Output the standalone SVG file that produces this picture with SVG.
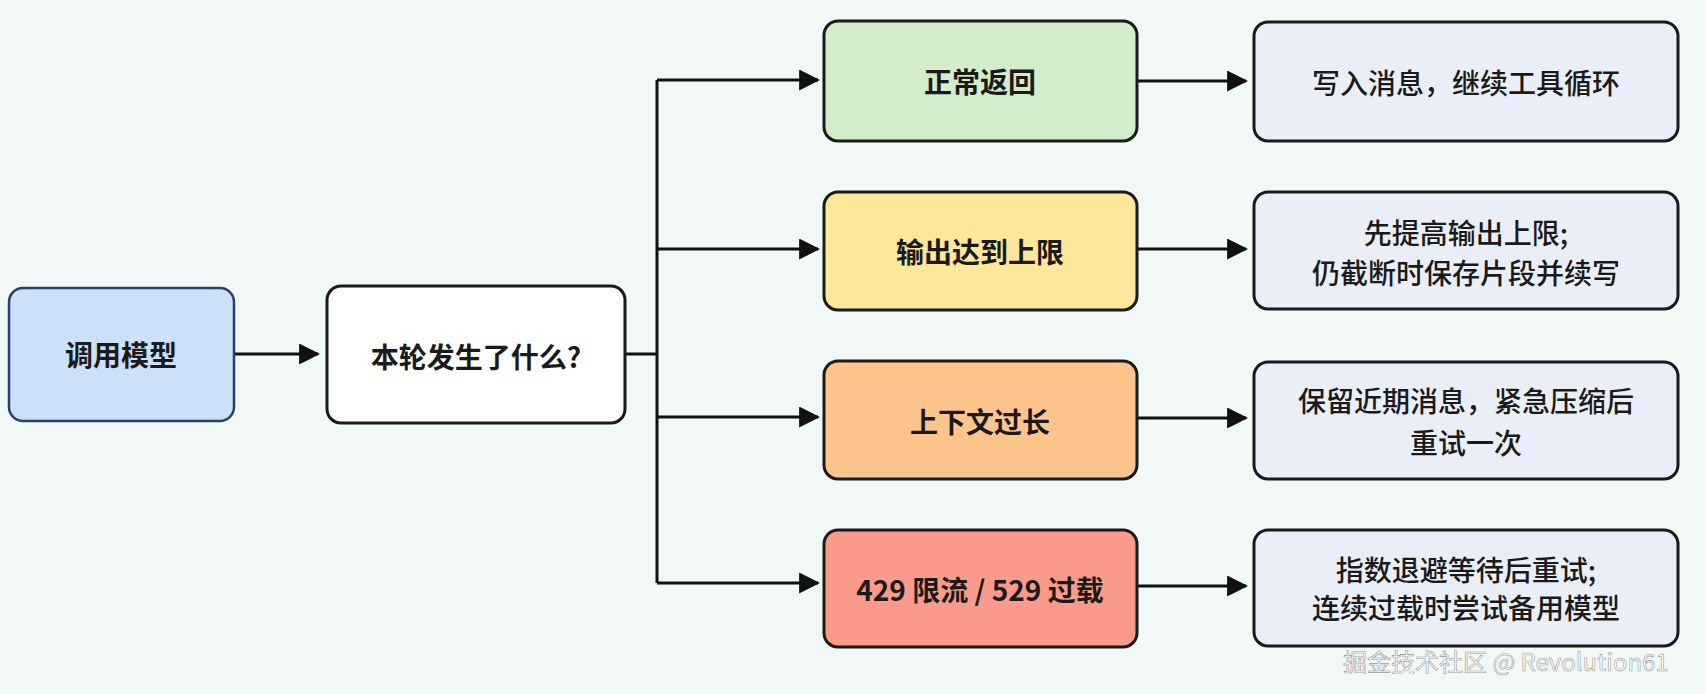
<svg xmlns="http://www.w3.org/2000/svg" width="1706" height="694" viewBox="0 0 1706 694">
<style>
.b{stroke:#1a1a1a;stroke-width:3}
.t{font-family:"Noto Sans CJK SC","Liberation Sans",sans-serif;font-size:28px;fill:#1a1a1a;text-anchor:middle;dominant-baseline:central}
.bold{font-weight:700}
.m{font-weight:500}
.c{stroke:#111;stroke-width:3;fill:none}
</style>
<defs><marker id="a" viewBox="0 0 10 10" refX="9" refY="5" markerWidth="6.5" markerHeight="6.5" orient="auto" markerUnits="userSpaceOnUse" ><path d="M0,0L10,5L0,10z" fill="#111"/></marker>
<marker id="ar" viewBox="0 0 10 10" refX="9" refY="5" markerWidth="7" markerHeight="7" orient="auto"><path d="M0,0L10,5L0,10z" fill="#111"/></marker></defs>
<rect width="1706" height="694" fill="#f1f8f5"/>
<g id="connectors">
<path class="c" d="M234,354H318" marker-end="url(#ar)"/>
<path class="c" d="M625,354H657M657,80V583"/>
<path class="c" d="M657,80H818" marker-end="url(#ar)"/>
<path class="c" d="M657,249H818" marker-end="url(#ar)"/>
<path class="c" d="M657,417H818" marker-end="url(#ar)"/>
<path class="c" d="M657,583H818" marker-end="url(#ar)"/>
<path class="c" d="M1137,81H1246" marker-end="url(#ar)"/>
<path class="c" d="M1137,249H1246" marker-end="url(#ar)"/>
<path class="c" d="M1137,418H1246" marker-end="url(#ar)"/>
<path class="c" d="M1137,586H1246" marker-end="url(#ar)"/>
</g>
<g id="call"><rect x="9" y="288" width="225" height="133" rx="14" fill="#cce0f9" stroke="#2b3f6b" stroke-width="2.5"/><text class="t bold" x="121" y="354">调用模型</text></g>
<g id="what"><rect x="327" y="286" width="298" height="137" rx="14" fill="#fff" class="b"/><text class="t bold" x="476" y="356">本轮发生了什么?</text></g>
<g id="normal"><rect x="824" y="21" width="313" height="120" rx="14" fill="#d3edcc" class="b"/><text class="t bold" x="980" y="81">正常返回</text></g>
<g id="maxout"><rect x="824" y="192" width="313" height="118" rx="14" fill="#fee69b" class="b"/><text class="t bold" x="980" y="251">输出达到上限</text></g>
<g id="ctx"><rect x="824" y="361" width="313" height="118" rx="14" fill="#fdc58c" class="b"/><text class="t bold" x="980" y="421">上下文过长</text></g>
<g id="rate"><rect x="824" y="530" width="313" height="117" rx="14" fill="#f99a8b" class="b"/><text class="t bold" x="980" y="589">429 限流 / 529 过载</text></g>
<g id="r1"><rect x="1254" y="22" width="424" height="119" rx="14" fill="#e9eef8" class="b"/><text class="t m" x="1466" y="82">写入消息，继续工具循环</text></g>
<g id="r2"><rect x="1254" y="192" width="424" height="117" rx="14" fill="#e9eef8" class="b"/><text class="t m" x="1466" y="232">先提高输出上限;</text><text class="t m" x="1466" y="272">仍截断时保存片段并续写</text></g>
<g id="r3"><rect x="1254" y="362" width="424" height="117" rx="14" fill="#e9eef8" class="b"/><text class="t m" x="1466" y="400">保留近期消息，紧急压缩后</text><text class="t m" x="1466" y="442">重试一次</text></g>
<g id="r4"><rect x="1254" y="530" width="424" height="116" rx="14" fill="#e9eef8" class="b"/><text class="t m" x="1466" y="569">指数退避等待后重试;</text><text class="t m" x="1466" y="607">连续过载时尝试备用模型</text></g>
<text x="1343" y="660" font-family="'Noto Sans CJK SC','Liberation Sans',sans-serif" font-size="24" fill="#fff" stroke="#999" stroke-width="0.6" dominant-baseline="central">掘金技术社区 @ Revolution61</text>
</svg>
